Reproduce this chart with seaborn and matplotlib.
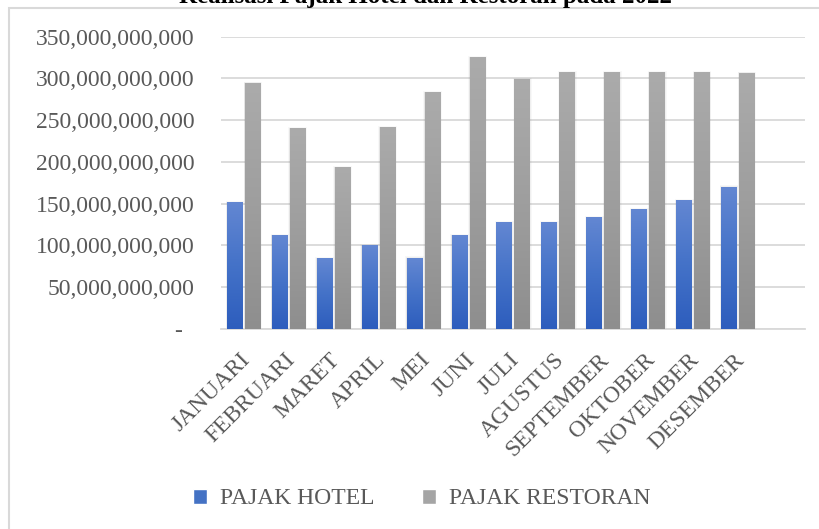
import numpy as np
import pandas as pd
import matplotlib
matplotlib.use("Agg")
import matplotlib.pyplot as plt
import seaborn as sns
from matplotlib.colors import LinearSegmentedColormap, to_hex
from matplotlib.patches import Rectangle, Patch
from matplotlib.ticker import FuncFormatter, MultipleLocator
import matplotlib.transforms as mtransforms

bulan = ["JANUARI", "FEBRUARI", "MARET", "APRIL", "MEI", "JUNI", "JULI",
         "AGUSTUS", "SEPTEMBER", "OKTOBER", "NOVEMBER", "DESEMBER"]
pajak_hotel = [151e9, 111.5e9, 84e9, 99.5e9, 85e9, 111.5e9, 127e9,
               127e9, 133e9, 143e9, 153.5e9, 170e9]
pajak_restoran = [294e9, 240e9, 193e9, 241e9, 283e9, 325e9, 299e9,
                  307e9, 307e9, 307e9, 307e9, 306e9]
seri = ["PAJAK HOTEL", "PAJAK RESTORAN"]
judul = "Realisasi Pajak Hotel dan Restoran pada 2022"

df = pd.DataFrame({
    "bulan": bulan * 2,
    "nilai": pajak_hotel + pajak_restoran,
    "seri": [seri[0]] * len(bulan) + [seri[1]] * len(bulan),
})

sns.set_theme(style="white")
plt.rcParams["font.family"] = ["Liberation Serif", "DejaVu Serif"]

W, H = 819, 529
fig = plt.figure(figsize=(W / 100, H / 100), dpi=100)
ax = fig.add_axes([221 / W, 1 - 329 / H, (805 - 221) / W, (329 - 36.7) / H])

blue_mid, gray_mid = "#4472C4", "#A5A5A5"
sns.barplot(data=df, x="bulan", y="nilai", hue="seri", order=bulan,
            hue_order=seri, palette=[blue_mid, gray_mid], width=0.8,
            gap=0.16, ax=ax, legend=False, saturation=1)

cm_blue = LinearSegmentedColormap.from_list("b", ["#2D5DBD", "#4472C8", "#6387D2"])
cm_gray = LinearSegmentedColormap.from_list("g", ["#8E8E8E", "#9E9E9E", "#ABABAB"])
grad = np.linspace(0, 1, 256).reshape(-1, 1)
for p in list(ax.patches):
    x, y = p.get_x(), p.get_y()
    w, h = p.get_width(), p.get_height()
    if h <= 0:
        continue
    fc = to_hex(p.get_facecolor())
    cm = cm_blue if fc.lower() == blue_mid.lower() else cm_gray
    # soft shadow
    for k, a in [(0.05, 0.05), (0.03, 0.07), (0.015, 0.09)]:
        ax.add_patch(Rectangle((x - k * 0.6, y), w + k * 1.6, h + k * 4e10,
                               facecolor="#7F7F7F", edgecolor="none",
                               alpha=a, zorder=1))
    ax.imshow(grad, extent=[x, x + w, y, y + h], origin="lower",
              aspect="auto", cmap=cm, zorder=3, interpolation="bilinear")
    p.set_visible(False)

ax.set_xlim(-0.5, 12.5)
ax.set_ylim(0, 350e9)
ax.yaxis.set_major_locator(MultipleLocator(50e9))
ax.yaxis.set_major_formatter(FuncFormatter(
    lambda v, pos: "-  " if abs(v) < 1 else f"{v:,.0f}"))
ax.grid(axis="y", color="#D9D9D9", linewidth=1.3, zorder=0)
ax.set_axisbelow(True)
for s in ["left", "right", "top"]:
    ax.spines[s].set_visible(False)
ax.spines["bottom"].set_color("#D9D9D9")
ax.spines["bottom"].set_linewidth(1.3)
ax.set_xlabel("")
ax.set_ylabel("")
ax.tick_params(axis="both", length=0, labelsize=17, labelcolor="#595959")
ax.tick_params(axis="y", pad=19)
ax.tick_params(axis="x", pad=4)
ax.set_xticks(range(len(bulan)))
ax.set_xticklabels(bulan, rotation=45, ha="right", rotation_mode="anchor")
off = mtransforms.ScaledTranslation(-4 / 100, -15 / 100, fig.dpi_scale_trans)
for lbl in ax.get_xticklabels():
    lbl.set_transform(lbl.get_transform() + off)

fig.text(425 / W, 1 - 3 / H, judul, ha="center", va="baseline",
         fontsize=18, fontweight="bold", color="black")

fig.add_artist(Rectangle((9 / W, -0.05), 1.1, 1 - 8 / H + 0.05,
                         transform=fig.transFigure, facecolor="none",
                         edgecolor="#D9D9D9", linewidth=1.5))

handles = [Patch(facecolor=blue_mid), Patch(facecolor=gray_mid)]
fig.legend(handles, seri, loc="center", bbox_to_anchor=(421.5 / W, 1 - 499 / H),
           ncol=2, frameon=False, fontsize=17, labelcolor="#595959",
           handlelength=0.6, handleheight=0.6, handletextpad=0.55,
           columnspacing=2.0)

fig.savefig("out.png", dpi=100)
